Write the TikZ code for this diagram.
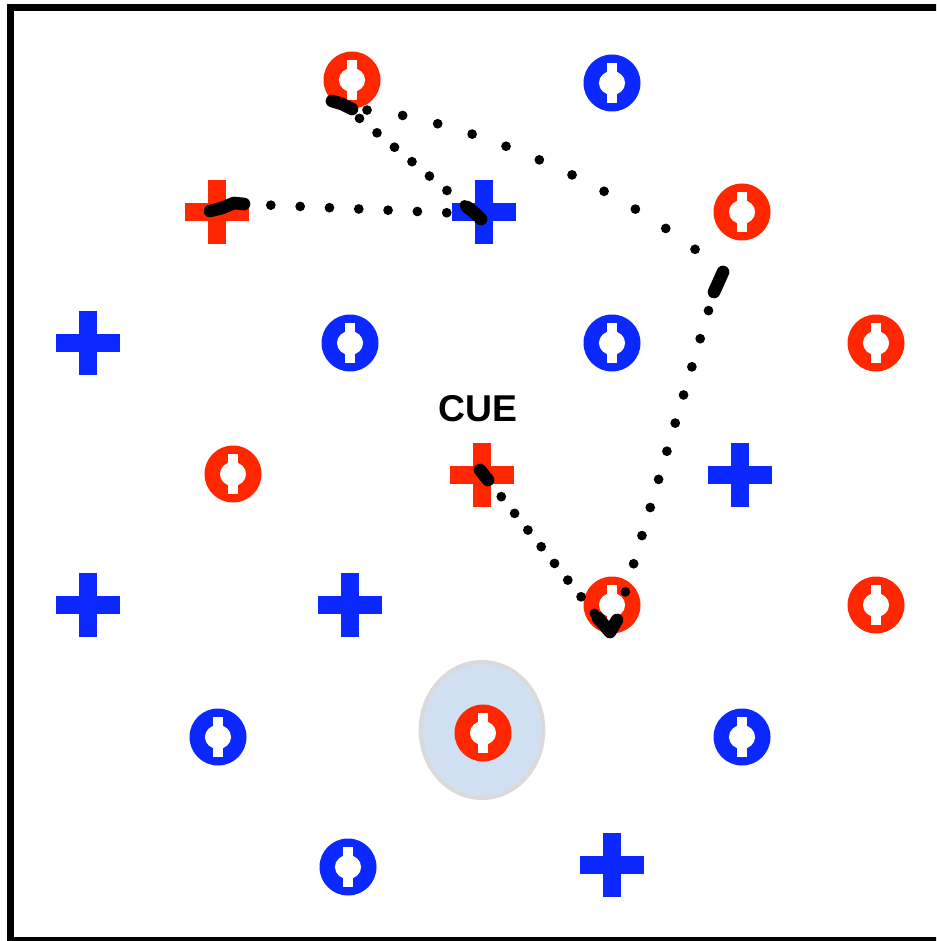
\documentclass[tikz,border=0pt]{standalone}
\usepackage{fontspec}
\setmainfont{Liberation Sans}
\usetikzlibrary{shapes.geometric}
\definecolor{itemred}{RGB}{255,38,0}
\definecolor{itemblue}{RGB}{10,40,255}
\definecolor{hlfill}{RGB}{208,224,242}
\definecolor{hldraw}{RGB}{218,218,218}
\tikzset{
  ringitem/.style={circle, fill=#1, draw=none, minimum size=42.75pt, inner sep=0pt,
    path picture={
      \fill[white] ([shift={(-4pt,-14.8pt)}]path picture bounding box.center) rectangle ([shift={(4pt,14.8pt)}]path picture bounding box.center);
      \fill[white] (path picture bounding box.center) ellipse (9.8pt and 9pt);
    }},
  plusitem/.style={rectangle, draw=none, minimum size=48pt, inner sep=0pt,
    path picture={
      \fill[#1] ([shift={(-24pt,-7.1pt)}]path picture bounding box.center) rectangle ([shift={(24pt,7.1pt)}]path picture bounding box.center);
      \fill[#1] ([shift={(-7.1pt,-24pt)}]path picture bounding box.center) rectangle ([shift={(7.1pt,24pt)}]path picture bounding box.center);
    }},
  highlight/.style={ellipse, fill=hlfill, draw=hldraw, line width=3pt, minimum width=92pt, minimum height=102pt, inner sep=0pt},
  fixation/.style={line width=9.5pt, line cap=round, line join=round, black},
  saccade/.style={line width=7.3pt, line cap=round, black, dash pattern=on 0pt off #1},
  saccade/.default=22pt,
  cuelabel/.style={font=\fontsize{28}{30}\selectfont\bfseries, text=black, inner sep=0pt},
}
\begin{document}
\begin{tikzpicture}[x=0.75pt,y=-0.75pt]
\useasboundingbox (0,0) rectangle (936,941);
\clip (0,0) rectangle (936,941);
\fill[white] (0,0) rectangle (936,941);
\draw[line width=5.25pt] (10.5,7.5) rectangle (945,940);

% highlight
\node[highlight] (hl) at (482,730) {};

% row 1
\node[ringitem=itemred]  (r1a) at (352,80) {};
\node[ringitem=itemblue] (r1b) at (612,83) {};
% row 2
\node[plusitem=itemred]  (r2a) at (217,212) {};
\node[plusitem=itemblue] (r2b) at (484,212) {};
\node[ringitem=itemred]  (r2c) at (742,212) {};
% row 3
\node[plusitem=itemblue] (r3a) at (88,343) {};
\node[ringitem=itemblue] (r3b) at (350,343) {};
\node[ringitem=itemblue] (r3c) at (612,343) {};
\node[ringitem=itemred]  (r3d) at (876,343) {};
% row 4
\node[ringitem=itemred]  (r4a) at (233,474) {};
\node[plusitem=itemred]  (r4b) at (482,475) {};
\node[plusitem=itemblue] (r4c) at (740,475) {};
% row 5
\node[plusitem=itemblue] (r5a) at (88,605) {};
\node[plusitem=itemblue] (r5b) at (350,605) {};
\node[ringitem=itemred]  (r5c) at (612,605) {};
\node[ringitem=itemred]  (r5d) at (876,605) {};
% row 6
\node[ringitem=itemblue] (r6a) at (218,737) {};
\node[ringitem=itemred]  (r6b) at (483,733) {};
\node[ringitem=itemblue] (r6c) at (742,737) {};
% row 7
\node[ringitem=itemblue] (r7a) at (348,867) {};
\node[plusitem=itemblue] (r7b) at (612,865) {};

% label
\node[cuelabel] (cue) at (478,409) {CUE};

% fixation points
\coordinate (f1a) at (480,470); \coordinate (f1b) at (488,480);
\coordinate (f2a) at (598,618); \coordinate (f2m) at (610,632); \coordinate (f2b) at (617,620);
\coordinate (f3a) at (714,292); \coordinate (f3m) at (719,281); \coordinate (f3b) at (723,272);
\coordinate (f4a) at (332,101); \coordinate (f4m) at (342,104); \coordinate (f4b) at (352,109);
\coordinate (f5a) at (467,207); \coordinate (f5m) at (476,214); \coordinate (f5b) at (481,219);
\coordinate (f6a) at (210,211); \coordinate (f6m) at (222,208); \coordinate (f6c) at (234,203);
\coordinate (f6b) at (244,204);

% saccades
\draw[saccade=16pt] (f1b) -- (f2a);
\draw[saccade=22pt] (f2b) -- (f3a);
\draw[saccade=27pt] (f3b) .. controls (620,182) and (450,113) .. (f4b);
\draw[saccade=17pt] (f4m) -- (f5a);
\draw[saccade=22pt] (f5m) -- (f6b);

% fixations
\draw[fixation] (f1a) -- (f1b);
\draw[fixation] (f2a) -- (f2m) -- (f2b);
\draw[fixation] (f3a) -- (f3m) -- (f3b);
\draw[fixation] (f4a) -- (f4m) -- (f4b);
\draw[fixation] (f5a) -- (f5m) -- (f5b);
\draw[fixation] (f6a) -- (f6m) -- (f6c) -- (f6b);
\end{tikzpicture}
\end{document}
